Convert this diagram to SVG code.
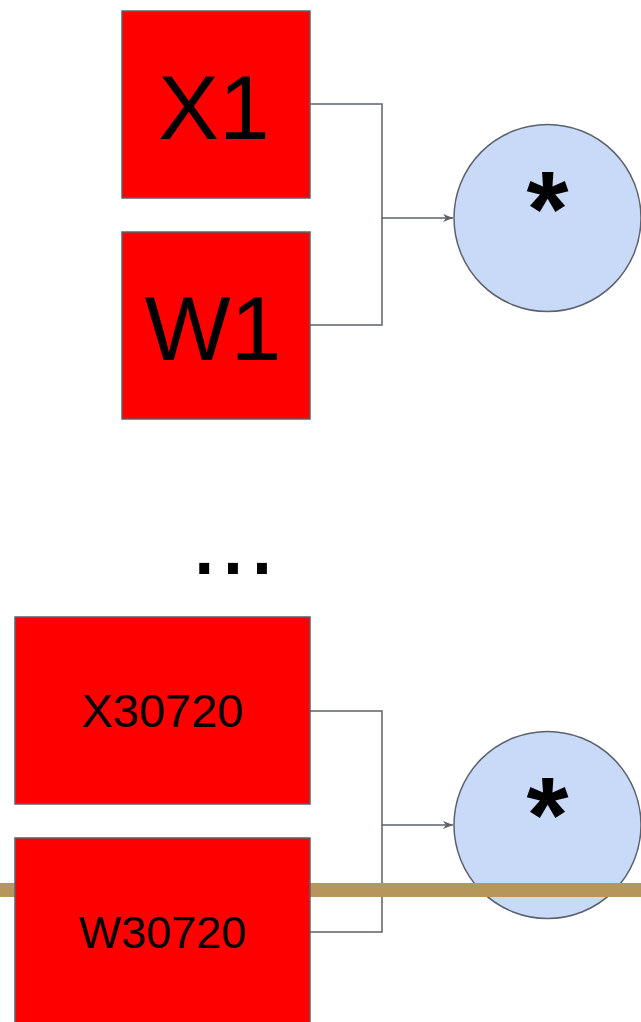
<svg xmlns="http://www.w3.org/2000/svg" width="641" height="1022" viewBox="0 0 641 1022">
<defs>
<style>
.box{fill:#ff0000;stroke:#5b626b;stroke-width:1.5}
.op{fill:#c9daf8;stroke:#5b626b;stroke-width:1.5}
.conn{fill:none;stroke:#5b626b;stroke-width:1.5}
.lbl{font-family:"Liberation Sans",Arial,sans-serif;fill:#000;text-anchor:middle}
.star{font-family:"Liberation Sans",Arial,sans-serif;font-weight:bold;fill:#000;text-anchor:middle;font-size:108px}
</style>
<marker id="arr" markerWidth="12" markerHeight="10" refX="10" refY="5" orient="auto" markerUnits="userSpaceOnUse">
<path d="M0,1 L10,5 L0,9 L3,5 Z" fill="#5b626b"/>
</marker>
</defs>
<rect width="641" height="1022" fill="#ffffff"/>
<g id="node-x1"><rect class="box" x="122" y="11" width="188" height="187"/><text class="lbl" x="214" y="139" font-size="91">X1</text></g>
<g id="node-w1"><rect class="box" x="122" y="232" width="188" height="187"/><text class="lbl" x="213" y="360" font-size="91">W1</text></g>
<g id="node-mul1"><circle class="op" cx="547.5" cy="218" r="93.5"/><text class="star" x="547.5" y="246">*</text></g>
<g id="ellipsis"><text class="lbl" x="233" y="574" font-size="104">...</text></g>
<g id="node-mul2"><circle class="op" cx="547.5" cy="825" r="93.5"/><text class="star" x="547.5" y="852">*</text></g>
<g id="connectors">
<path class="conn" d="M310,104 H382 V218 H453" marker-end="url(#arr)"/>
<path class="conn" d="M310,325 H382 V218"/>
<path class="conn" d="M310,711 H382 V825 H453" marker-end="url(#arr)"/>
<path class="conn" d="M310,932 H382 V825"/>
</g>
<rect id="bar" x="0" y="883" width="641" height="14" fill="#b7965b"/>
<g id="node-x30720"><rect class="box" x="15" y="617" width="295" height="187"/><text class="lbl" x="162.5" y="727" font-size="47">X30720</text></g>
<g id="node-w30720"><rect class="box" x="15" y="838" width="295" height="190"/><text class="lbl" x="162.5" y="948" font-size="45">W30720</text></g>
</svg>
